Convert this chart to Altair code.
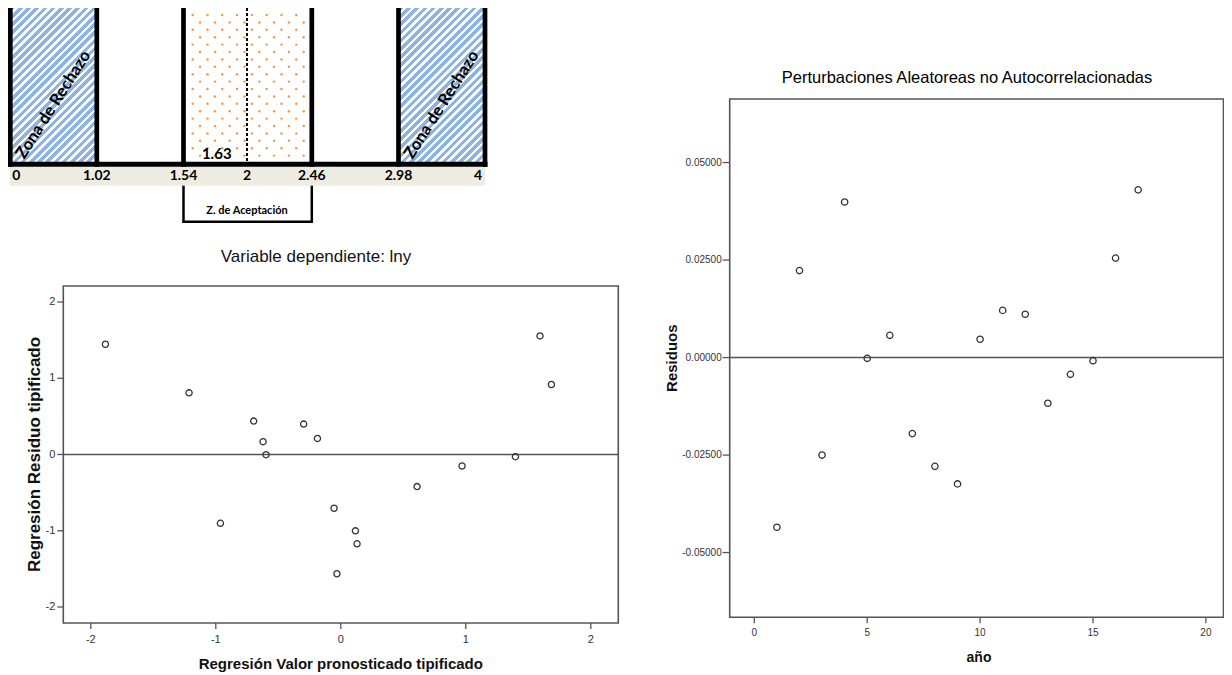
import altair as alt
import numpy as np
import pandas as pd

W, H = 1216, 667
M = 8


def c(v):
    return v - M


# ---------------- Durbin-Watson diagram ----------------
dw_bounds = [0, 1.02, 1.54, 2, 2.46, 2.98, 4]
dw_labels = ["0", "1.02", "1.54", "2", "2.46", "2.98", "4"]
dw_stat = [1.63]
dw_stat_label = ["1.63"]
reject_lo = [0, 2.98]
reject_hi = [1.02, 4]
reject_text = ["Zona de Rechazo", "Zona de Rechazo"]
accept_lo = [1.54]
accept_hi = [2.46]
accept_mid = [2]
accept_text = ["Z. de Aceptación"]
wall_values = [0, 1.02, 1.54, 2.46, 2.98, 4]
center_value = [2]

# ---------------- scatter 1: standardized residuals ----------------
pred_std = [-1.883, -1.214, -0.963, -0.697, -0.622, -0.598, -0.297, -0.187, -0.054,
            -0.031, 0.117, 0.130, 0.610, 0.970, 1.397, 1.594, 1.685]
resid_std = [1.446, 0.809, -0.902, 0.438, 0.168, -0.003, 0.399, 0.211, -0.705,
             -1.564, -1.001, -1.171, -0.421, -0.151, -0.029, 1.555, 0.918]
std_ticks = [-2, -1, 0, 1, 2]
std_tick_labels = ["-2", "-1", "0", "1", "2"]
std_x_domain = [-2.22, 2.22]
std_y_domain = [-2.21, 2.21]
title1 = "Variable dependiente: lny"
xtitle1 = "Regresión Valor pronosticado tipificado"
ytitle1 = "Regresión Residuo tipificado"

# ---------------- scatter 2: residuals by year ----------------
years = [1, 2, 3, 4, 5, 6, 7, 8, 9, 10, 11, 12, 13, 14, 15, 16, 17]
residuals = [-0.0435, 0.0223, -0.0250, 0.0399, -0.0002, 0.0057, -0.0195, -0.0279, -0.0324,
             0.0047, 0.0121, 0.0111, -0.0117, -0.0043, -0.0008, 0.0255, 0.0430]
year_ticks = [0, 5, 10, 15, 20]
year_tick_labels = ["0", "5", "10", "15", "20"]
res_ticks = [-0.05, -0.025, 0.0, 0.025, 0.05]
res_tick_labels = ["-0.05000", "-0.02500", "0.00000", "0.02500", "0.05000"]
year_domain = [-1.09, 20.78]
res_domain = [-0.0666, 0.0663]
title2 = "Perturbaciones Aleatoreas no Autocorrelacionadas"
xtitle2 = "año"
ytitle2 = "Residuos"

# ---------------- layout (page pixels) ----------------
DW_PX = [10.3, 96.8, 183.5, 247, 311.8, 398.5, 485]
DW_TOP = 8
BASE_Y = 164.2
BAND_Y = (166.7, 185.7)
BRACKET_Y = 221.7

S1_X = (63.3, 618.3)
S1_Y = (623.0, 286.0)
S2_X = (729.7, 1223.5)
S2_Y = (617.3, 99.0)

SANS = "Liberation Sans, Arial, sans-serif"
NARROW = "Liberation Sans Narrow, Liberation Sans, Arial, sans-serif"
CAL = "Lato, Carlito, sans-serif"
BLUE = "#8db3e2"
ORANGE = "#f79646"
FRAME = "#555555"
INK = "#333333"

one = pd.DataFrame({"k": [0]})


def df(**kw):
    return pd.DataFrame(kw)


dw_scale = alt.Scale(type="linear", domain=dw_bounds, range=[c(v) for v in DW_PX],
                     nice=False, zero=False)


def dwx(f):
    return alt.X(f, type="quantitative", scale=dw_scale, axis=None)


# ---- diagonal stripe gradient for the rejection zones ----
hw = DW_PX[1] - DW_PX[0]
hh = c(BASE_Y) - c(DW_TOP)
period = 5.8
blue_frac = 0.56
span = (hw + hh) / np.sqrt(2)
dt = period / span
n = int(np.ceil(span / period))
stops = []
for k in range(n):
    t0 = min(k * dt, 1.0)
    t1 = min((k + blue_frac) * dt, 1.0)
    t2 = min((k + 1) * dt, 1.0)
    stops += [
        alt.GradientStop(offset=t0, color=BLUE),
        alt.GradientStop(offset=t1, color=BLUE),
        alt.GradientStop(offset=t1, color="#ffffff"),
        alt.GradientStop(offset=t2, color="#ffffff"),
    ]
a = (hw + hh) / (hw * hw + hh * hh)
stripes = alt.LinearGradient(gradient="linear", stops=stops, x1=0, y1=0, x2=a * hw, y2=a * hh)

layers = []

# rejection zones
layers.append(
    alt.Chart(df(lo=reject_lo, hi=reject_hi)).mark_rect(fill=stripes).encode(
        x=dwx("lo"), x2="hi", y=alt.value(c(DW_TOP)), y2=alt.value(c(BASE_Y))
    )
)

# dotted texture of acceptance zone (decorative lattice, pixel identity scale)
dx_, dy_ = [], []
j = 0
yy = 15.0
while yy < 160:
    xx = 192.7 + (7.4 if j % 2 else 0.0)
    while xx < 307:
        dx_.append(c(xx))
        dy_.append(c(yy))
        xx += 14.8
    yy += 7.4
    j += 1
pix_x = alt.Scale(domain=[0, W], range=[0, W], nice=False, zero=False)
pix_y = alt.Scale(domain=[0, H], range=[0, H], nice=False, zero=False)
layers.append(
    alt.Chart(df(px=dx_, py=dy_)).mark_circle(size=6, color=ORANGE, opacity=1).encode(
        x=alt.X("px:Q", scale=pix_x, axis=None), y=alt.Y("py:Q", scale=pix_y, axis=None)
    )
)

# band below baseline
layers.append(
    alt.Chart(one).mark_rect(color="#eeece1").encode(
        x=alt.value(c(10)), x2=alt.value(c(485)), y=alt.value(c(BAND_Y[0])), y2=alt.value(c(BAND_Y[1]))
    )
)

# thick walls
layers.append(
    alt.Chart(df(b=wall_values)).mark_rule(color="black", strokeWidth=4.7).encode(
        x=dwx("b"), y=alt.value(c(DW_TOP)), y2=alt.value(c(BAND_Y[0]))
    )
)
# dashed center
layers.append(
    alt.Chart(df(b=center_value)).mark_rule(color="black", strokeWidth=2, strokeDash=[3, 2]).encode(
        x=dwx("b"), y=alt.value(c(DW_TOP)), y2=alt.value(c(BASE_Y - 2))
    )
)
# baseline
layers.append(
    alt.Chart(df(lo=[dw_bounds[0]], hi=[dw_bounds[-1]])).mark_rule(
        color="black", strokeWidth=5, strokeCap="square").encode(
        x=dwx("lo"), x2="hi", y=alt.value(c(BASE_Y))
    )
)

# scale labels
lab_y = alt.value(c(175.7))
layers.append(
    alt.Chart(df(b=dw_bounds[1:-1], lab=dw_labels[1:-1])).mark_text(
        font=CAL, fontWeight="bold", fontSize=14, color="black", align="center", baseline="middle").encode(
        x=dwx("b"), y=lab_y, text="lab:N"
    )
)
layers.append(
    alt.Chart(df(b=dw_bounds[:1], lab=dw_labels[:1])).mark_text(
        font=CAL, fontWeight="bold", fontSize=14, color="black", align="left", baseline="middle", dx=2).encode(
        x=dwx("b"), y=lab_y, text="lab:N"
    )
)
layers.append(
    alt.Chart(df(b=dw_bounds[-1:], lab=dw_labels[-1:])).mark_text(
        font=CAL, fontWeight="bold", fontSize=14, color="black", align="right", baseline="middle", dx=-3).encode(
        x=dwx("b"), y=lab_y, text="lab:N"
    )
)
# statistic label
layers.append(
    alt.Chart(df(v=dw_stat, lab=dw_stat_label)).mark_text(
        font=CAL, fontWeight="bold", fontSize=15, color="black", align="left", baseline="middle", dx=6).encode(
        x=dwx("v"), y=alt.value(c(154.3)), text="lab:N"
    )
)
# acceptance bracket
layers.append(
    alt.Chart(df(b=accept_lo + accept_hi)).mark_rule(color="black", strokeWidth=2.5).encode(
        x=dwx("b"), y=alt.value(c(BAND_Y[1])), y2=alt.value(c(BRACKET_Y))
    )
)
layers.append(
    alt.Chart(df(lo=accept_lo, hi=accept_hi)).mark_rule(color="black", strokeWidth=2.5, strokeCap="square").encode(
        x=dwx("lo"), x2="hi", y=alt.value(c(BRACKET_Y))
    )
)
layers.append(
    alt.Chart(df(m=accept_mid, t=accept_text)).mark_text(
        font=CAL, fontWeight="bold", fontSize=11, color="black", align="center", baseline="middle").encode(
        x=dwx("m"), y=alt.value(c(210.7)), text="t:N"
    )
)
# rotated zone labels
layers.append(
    alt.Chart(df(lo=reject_lo, hi=reject_hi, t=reject_text)).transform_calculate(
        mid="(datum.lo + datum.hi) / 2").mark_text(
        font=CAL, fontWeight="bold", fontSize=16.5, color="black", align="center", baseline="middle",
        angle=302.5).encode(
        x=dwx("mid:Q"), y=alt.value(c(104.7)), text="t:N"
    )
)

# ---------------- scatter 1 ----------------
s1x = alt.Scale(domain=std_x_domain, range=[c(S1_X[0]), c(S1_X[1])], nice=False, zero=False)
s1y = alt.Scale(domain=std_y_domain, range=[c(S1_Y[0]), c(S1_Y[1])], nice=False, zero=False)


def X1(f):
    return alt.X(f, type="quantitative", scale=s1x, axis=None)


def Y1(f):
    return alt.Y(f, type="quantitative", scale=s1y, axis=None)


layers.append(
    alt.Chart(df(x0=[std_x_domain[0]], x1=[std_x_domain[1]], y0=[std_y_domain[0]], y1=[std_y_domain[1]]))
    .mark_rect(fillOpacity=0, stroke=FRAME, strokeWidth=1.6)
    .encode(x=X1("x0"), x2="x1", y=Y1("y0"), y2="y1")
)
layers.append(
    alt.Chart(df(x0=[std_x_domain[0]], x1=[std_x_domain[1]], y=[0])).mark_rule(color=FRAME, strokeWidth=1.6)
    .encode(x=X1("x0"), x2="x1", y=Y1("y"))
)
layers.append(
    alt.Chart(df(x=pred_std, y=resid_std)).mark_point(shape="circle", filled=False, size=38,
                                                       strokeWidth=1.3, color=INK, opacity=1)
    .encode(x=X1("x"), y=Y1("y"))
)
layers.append(
    alt.Chart(df(t=std_ticks)).mark_rule(color=FRAME, strokeWidth=1.3)
    .encode(y=Y1("t"), x=alt.value(c(S1_X[0] - 6)), x2=alt.value(c(S1_X[0])))
)
layers.append(
    alt.Chart(df(t=std_ticks, lab=std_tick_labels)).mark_text(
        font=NARROW, fontSize=11, color=INK, align="right", baseline="middle")
    .encode(y=Y1("t"), x=alt.value(c(S1_X[0] - 8)), text="lab:N")
)
layers.append(
    alt.Chart(df(t=std_ticks)).mark_rule(color=FRAME, strokeWidth=1.3)
    .encode(x=X1("t"), y=alt.value(c(S1_Y[0])), y2=alt.value(c(S1_Y[0] + 6)))
)
layers.append(
    alt.Chart(df(t=std_ticks, lab=std_tick_labels)).mark_text(
        font=NARROW, fontSize=11, color=INK, align="center", baseline="middle")
    .encode(x=X1("t"), y=alt.value(c(640)), text="lab:N")
)
layers.append(
    alt.Chart(df(t=[title1])).mark_text(font=SANS, fontSize=17, color="#111111", align="center",
                                        baseline="middle")
    .encode(x=alt.value(c(316)), y=alt.value(c(256.7)), text="t:N")
)
layers.append(
    alt.Chart(df(t=[xtitle1])).mark_text(font=SANS, fontSize=15, fontWeight="bold", color="#111111",
                                         align="center", baseline="middle")
    .encode(x=alt.value(c((S1_X[0] + S1_X[1]) / 2)), y=alt.value(c(664)), text="t:N")
)
layers.append(
    alt.Chart(df(t=[ytitle1])).mark_text(font=SANS, fontSize=17, fontWeight="bold", color="#111111",
                                         align="center", baseline="middle", angle=270)
    .encode(x=alt.value(c(35)), y=alt.value(c((S1_Y[0] + S1_Y[1]) / 2)), text="t:N")
)

# ---------------- scatter 2 ----------------
s2x = alt.Scale(domain=year_domain, range=[c(S2_X[0]), c(S2_X[1])], nice=False, zero=False)
s2y = alt.Scale(domain=res_domain, range=[c(S2_Y[0]), c(S2_Y[1])], nice=False, zero=False)


def X2(f):
    return alt.X(f, type="quantitative", scale=s2x, axis=None)


def Y2(f):
    return alt.Y(f, type="quantitative", scale=s2y, axis=None)


layers.append(
    alt.Chart(df(x0=[year_domain[0]], x1=[year_domain[1]], y0=[res_domain[0]], y1=[res_domain[1]]))
    .mark_rect(fillOpacity=0, stroke=FRAME, strokeWidth=1.6)
    .encode(x=X2("x0"), x2="x1", y=Y2("y0"), y2="y1")
)
layers.append(
    alt.Chart(df(x0=[year_domain[0]], x1=[year_domain[1]], y=[0.0])).mark_rule(color=FRAME, strokeWidth=1.6)
    .encode(x=X2("x0"), x2="x1", y=Y2("y"))
)
layers.append(
    alt.Chart(df(x=years, y=residuals)).mark_point(shape="circle", filled=False, size=40,
                                                   strokeWidth=1.3, color=INK, opacity=1)
    .encode(x=X2("x"), y=Y2("y"))
)
layers.append(
    alt.Chart(df(t=res_ticks)).mark_rule(color=FRAME, strokeWidth=1.3)
    .encode(y=Y2("t"), x=alt.value(c(S2_X[0] - 7)), x2=alt.value(c(S2_X[0])))
)
layers.append(
    alt.Chart(df(t=res_ticks, lab=res_tick_labels)).mark_text(
        font=SANS, fontSize=10, color=INK, align="right", baseline="middle")
    .encode(y=Y2("t"), x=alt.value(c(S2_X[0] - 8)), text="lab:N")
)
layers.append(
    alt.Chart(df(t=year_ticks)).mark_rule(color=FRAME, strokeWidth=1.3)
    .encode(x=X2("t"), y=alt.value(c(S2_Y[0])), y2=alt.value(c(S2_Y[0] + 6)))
)
layers.append(
    alt.Chart(df(t=year_ticks, lab=year_tick_labels)).mark_text(
        font=SANS, fontSize=10, color=INK, align="center", baseline="middle")
    .encode(x=X2("t"), y=alt.value(c(633.3)), text="lab:N")
)
layers.append(
    alt.Chart(df(t=[title2])).mark_text(font=SANS, fontSize=16.5, color="#000000", align="center",
                                        baseline="middle")
    .encode(x=alt.value(c(967)), y=alt.value(c(78)), text="t:N")
)
layers.append(
    alt.Chart(df(t=[xtitle2])).mark_text(font=SANS, fontSize=14, fontWeight="bold", color="#111111",
                                         align="center", baseline="middle")
    .encode(x=alt.value(c(979)), y=alt.value(c(658.3)), text="t:N")
)
layers.append(
    alt.Chart(df(t=[ytitle2])).mark_text(font=SANS, fontSize=15, fontWeight="bold", color="#111111",
                                         align="center", baseline="middle", angle=270)
    .encode(x=alt.value(c(672)), y=alt.value(c((S2_Y[0] + S2_Y[1]) / 2)), text="t:N")
)

chart = (
    alt.layer(*layers)
    .resolve_scale(x="independent", y="independent")
    .properties(width=W, height=H, padding=0, autosize=alt.AutoSizeParams(type="none"),
                background="white")
    .configure_view(stroke=None)
)

chart.save("out.html", embed_options={"renderer": "svg", "actions": False})
